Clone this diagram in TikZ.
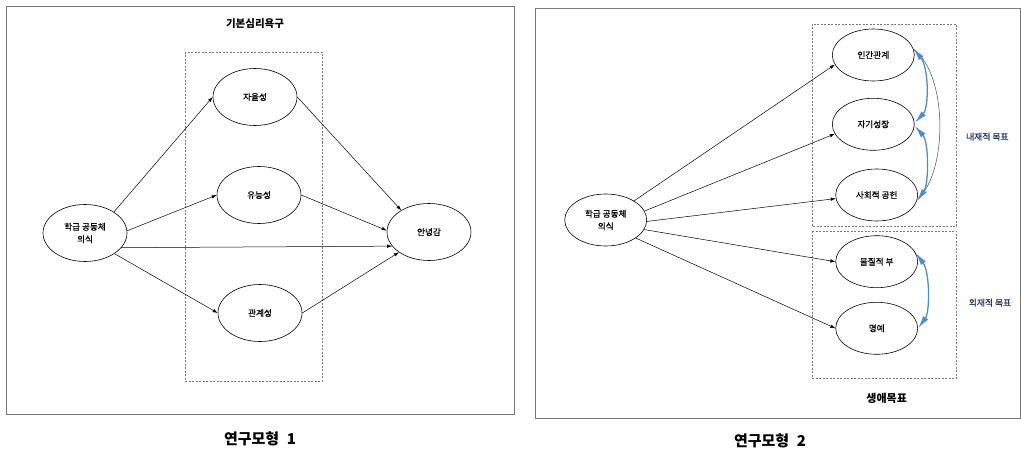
\documentclass[tikz,border=0pt]{standalone}
\usepackage{fontspec}
\setmainfont{Noto Sans CJK KR}
\newfontfamily\krheavy{Noto Sans CJK KR}[FakeBold=0.6]
\usetikzlibrary{shapes.geometric,arrows.meta}
\definecolor{covblue}{RGB}{78,140,205}
\definecolor{navy}{RGB}{35,55,110}
\definecolor{framegray}{RGB}{120,120,120}
\begin{document}
\begin{tikzpicture}[x=1pt,y=-1pt,
  ov/.style={ellipse, draw, line width=0.6pt, minimum width=84pt, minimum height=57pt, inner sep=0pt, align=center, font=\krheavy\fontsize{8.6}{12.5}\selectfont},
  ovr/.style={ov, minimum width=82pt, minimum height=52pt},
  panel/.style={draw=framegray, line width=1pt},
  dbox/.style={draw=framegray, line width=0.6pt, dash pattern=on 2pt off 1.5pt},
  arr/.style={-{Latex[length=5pt,width=3.5pt]}, line width=0.5pt},
  cov/.style={{Latex[length=13pt,width=6pt]}-{Latex[length=13pt,width=6pt]}, draw=covblue, line width=1.3pt},
  thincurve/.style={draw=black!70, line width=0.5pt},
  ttl/.style={font=\bfseries\fontsize{10.5}{12}\selectfont},
  capt/.style={font=\bfseries\fontsize{15}{18}\selectfont},
  side/.style={text=navy, font=\krheavy\fontsize{8.8}{10}\selectfont}]
\useasboundingbox (0,0) rectangle (1021,452);
% ---------- panel 1 ----------
\draw[panel] (6,7) rectangle (514,414);
\draw[dbox] (185,52) rectangle (322,381);
\node[ttl] (t1) at (255,24) {기본심리욕구};
\node[capt] (c1) at (260,439) {연구모형\hspace{0.5em}1};
\node[ov] (hak) at (85,233) {학급 공동체\\의식};
\node[ov] (ja) at (255,97) {자율성};
\node[ov] (yu) at (259,195) {유능성};
\node[ov] (gw) at (260,313) {관계성};
\node[ov] (an) at (429,232) {안녕감};
\draw[arr] (hak.36) -- (ja.west);
\draw[arr] (hak.3) -- (yu.west);
\draw[arr] (hak.-22) -- (an.201);
\draw[arr] (hak.-35) -- (gw.west);
\draw[arr] (ja.east) -- (an.142);
\draw[arr] (yu.east) -- (an.178);
\draw[arr] (gw.east) -- (an.214);
% ---------- panel 2 ----------
\draw[panel] (535,9) rectangle (1020.5,418);
\draw[dbox] (812,24) rectangle (956.7,226);
\draw[dbox] (812,231) rectangle (956.7,378);
\node[ovr] (hak2) at (605.7,220) {학급 공동체\\의식};
\node[ovr] (p1) at (873.3,55) {인간관계};
\node[ovr] (p2) at (873.3,124.3) {자기성장};
\node[ovr] (p3) at (876.7,195) {사회적 공헌};
\node[ovr] (p4) at (876.7,261.7) {물질적 부};
\node[ovr] (p5) at (876.7,328.3) {명예};
\node[side] (s1) at (987.3,136.7) {내재적 목표};
\node[side] (s2) at (990,302.7) {외재적 목표};
\node[font=\bfseries\fontsize{11}{13}\selectfont] (t2) at (886.7,398.3) {생애목표};
\node[capt] (c2) at (770,440.7) {연구모형\hspace{0.5em}2};
\draw[arr] (hak2.34) -- (p1.194);
\draw[arr] (hak2.13) -- (p2.194);
\draw[arr] (hak2.-2) -- (p3.185);
\draw[arr] (hak2.-14) -- (p4.west);
\draw[arr] (hak2.-31) -- (p5.west);
\draw[thincurve] (p1.8) .. controls (948,75) and (948,172) .. (p3.-6);
\draw[cov] (p1.10) .. controls (929,68) and (929,108) .. (p2.2);
\draw[cov] (p2.-2) .. controls (929,142) and (929,184) .. (p3.-9);
\draw[cov] (p4.13) .. controls (930,272) and (930,312) .. (p5.east);
\end{tikzpicture}
\end{document}
